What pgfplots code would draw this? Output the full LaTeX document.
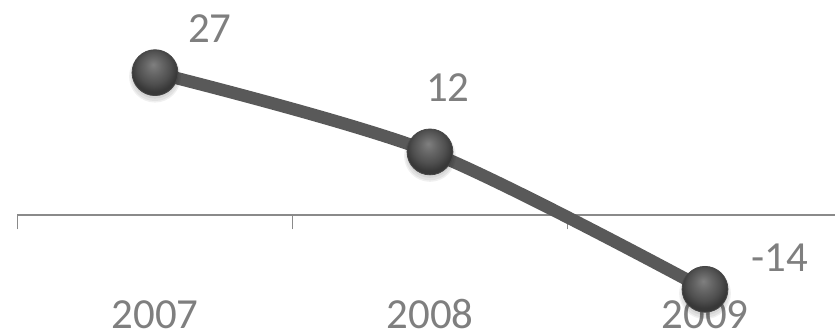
\documentclass[border=0pt]{standalone}
\usepackage{pgfplots}
\pgfplotsset{compat=1.18}
\usepackage{fontspec}
\setmainfont{Carlito}

\definecolor{labelgray}{HTML}{7F7F7F}
\definecolor{axisgray}{HTML}{8A8A8A}
\definecolor{linegray}{HTML}{595959}

% soft dark sphere for the data points
\pgfdeclareradialshading{darkball}{\pgfpoint{-2bp}{9bp}}{%
  color(0bp)=(black!50); color(9bp)=(black!60); color(18bp)=(black!69);
  color(25bp)=(black!78); color(50bp)=(black!78)}
\pgfdeclareplotmark{sball}{%
  % faint shadow under the sphere
  \begin{pgfscope}
    \pgfsetfillcolor{black}\pgfsetfillopacity{0.06}%
    \pgfpathcircle{\pgfpoint{0pt}{-4pt}}{\pgfplotmarksize+3pt}\pgfusepathqfill
    \pgfpathcircle{\pgfpoint{0pt}{-4pt}}{\pgfplotmarksize+1.5pt}\pgfusepathqfill
    \pgfpathcircle{\pgfpoint{0pt}{-3pt}}{\pgfplotmarksize}\pgfusepathqfill
  \end{pgfscope}
  \pgfpathcircle{\pgfpointorigin}{\pgfplotmarksize}%
  \pgfshadepath{darkball}{0}%
  \pgfsetlinewidth{0.8pt}\pgfsetstrokecolor{black!72}%
  \pgfusepathqstroke}

\pgfplotstableread{
x  y    dx  dy
0  27   55  44
1  12   18  65
2  -14  75  32
}\growth

\begin{document}
\begin{tikzpicture}
\begin{axis}[
  scale only axis,
  width=820pt, height=336pt,
  xmin=-0.5, xmax=2.4727,
  ymin=-22.64, ymax=40.75,
  axis x line*=middle,
  axis y line=none,
  x axis line style={axisgray, line width=2pt},
  xtick={0,1,2},
  xticklabels={2007,2008,2009},
  minor xtick={-0.5,0.5,1.5},
  major tick length=0pt,
  minor tick length=14pt,
  tick align=outside,
  minor tick style={axisgray, line width=1.6pt},
  xticklabel style={anchor=base, inner sep=0pt, yshift=-114pt,
    text=labelgray, font=\fontsize{43}{50}\selectfont},
  clip=false,
]
\addplot[smooth, tension=0.5, line width=12.5pt, color=linegray, no marks]
  table[x=x, y=y] {\growth};
\addplot[only marks, mark=sball, mark size=23pt,
  nodes near coords, point meta=explicit symbolic,
  visualization depends on={\thisrow{dx} \as \dx},
  visualization depends on={\thisrow{dy} \as \dy},
  every node near coord/.append style={anchor=center, xshift=\dx pt,
    yshift=\dy pt, text=labelgray, font=\fontsize{43}{50}\selectfont}]
  table[x=x, y=y, meta=y] {\growth};
\coordinate (bl) at (axis cs:-0.5636,-22.64);
\coordinate (tr) at (axis cs:2.4727,40.75);
\end{axis}
\pgfresetboundingbox
\path (bl) rectangle (tr);
\end{tikzpicture}
\end{document}
